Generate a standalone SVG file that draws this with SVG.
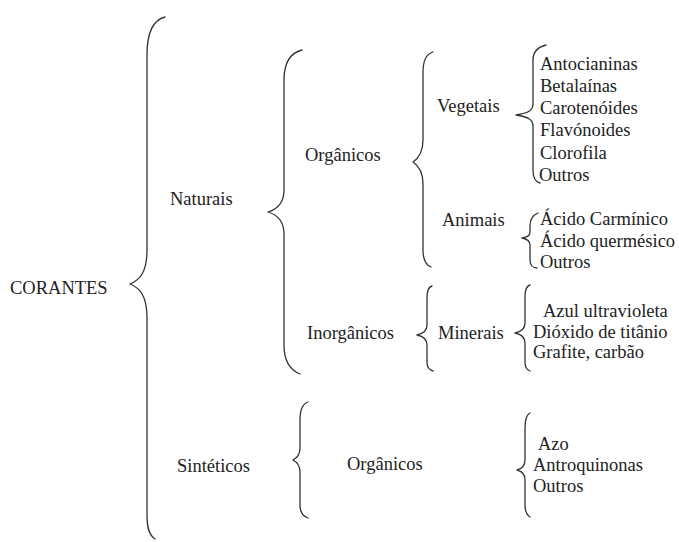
<svg xmlns="http://www.w3.org/2000/svg" width="679" height="542" viewBox="0 0 679 542">
<style>
text{font-family:"Liberation Serif","DejaVu Serif",serif;font-size:18.5px;fill:#222}
.b{fill:none;stroke:#333;stroke-width:1.3;stroke-linecap:round;stroke-linejoin:round}
</style>
<rect width="679" height="542" fill="#fff"/>
<g id="connectors">
<path class="b" d="M165,17 C153,20 147,32 147,55 L147,250 C147,272 140,280 130,284 C140,288 147,296 147,318 L147,515 C147,528 149,535 155,539"/>
<path class="b" d="M302,50 C290,53 284,62 284,80 L284,190 C284,203 278,209 268,212 C278,215 284,221 284,234 L284,345 C284,362 290,370 300,374"/>
<path class="b" d="M433,52 C426,54 423,60 423,72 L423,140 C423,152 419,158 413,162 C419,166 423,172 423,184 L423,250 C423,260 426,265 431,267"/>
<path class="b" d="M546,45 C538,47 533,52 533,60 L533,104 C533,110 529,113 516,115 C529,117 533,120 533,126 L533,170 C533,178 535,182 540,183"/>
<path class="b" d="M538,213 C533,215 530,219 530,226 L530,232 C530,236 527,237 522,238 C527,239 530,241 530,245 L530,260 C530,265 533,268 537,268"/>
<path class="b" d="M432,286 C428,287 427,291 427,298 L427,325 C427,331 422,334 417,335 C422,336 427,339 427,345 L427,362 C427,367 429,370 433,371"/>
<path class="b" d="M530,285 C526,286 525,290 525,297 L525,323 C525,329 520,332 515,333 C520,334 525,337 525,343 L525,362 C525,367 527,370 530,371"/>
<path class="b" d="M308,402 C302,404 300,410 300,420 L300,448 C300,455 297,458 293,460 C297,462 300,465 300,472 L300,505 C300,512 302,516 308,518"/>
<path class="b" d="M530,413 C526,415 525,420 525,428 L525,460 C525,466 521,469 517,470 C521,471 525,474 525,480 L525,505 C525,512 527,515 530,517"/>
</g>
<g id="corantes"><text x="10" y="294">CORANTES</text></g>
<g id="naturais"><text x="170" y="205">Naturais</text></g>
<g id="organicos-nat"><text x="305" y="161">Orgânicos</text></g>
<g id="vegetais"><text x="437" y="112">Vegetais</text></g>
<g id="vegetais-list">
<text x="540" y="70">Antocianinas</text>
<text x="540" y="92">Betalaínas</text>
<text x="540" y="114">Carotenóides</text>
<text x="540" y="136">Flavónoides</text>
<text x="540" y="159">Clorofila</text>
<text x="539" y="181">Outros</text>
</g>
<g id="animais"><text x="442" y="226">Animais</text></g>
<g id="animais-list">
<text x="540" y="225">Ácido Carmínico</text>
<text x="540" y="247">Ácido quermésico</text>
<text x="540" y="268">Outros</text>
</g>
<g id="inorganicos"><text x="307" y="339">Inorgânicos</text></g>
<g id="minerais"><text x="438" y="339">Minerais</text></g>
<g id="minerais-list">
<text x="543" y="317">Azul ultravioleta</text>
<text x="533" y="338">Dióxido de titânio</text>
<text x="533" y="358">Grafite, carbão</text>
</g>
<g id="sinteticos"><text x="177" y="472">Sintéticos</text></g>
<g id="organicos-sint"><text x="347" y="470">Orgânicos</text></g>
<g id="sinteticos-list">
<text x="538" y="450">Azo</text>
<text x="533" y="471">Antroquinonas</text>
<text x="533" y="492">Outros</text>
</g>
</svg>
